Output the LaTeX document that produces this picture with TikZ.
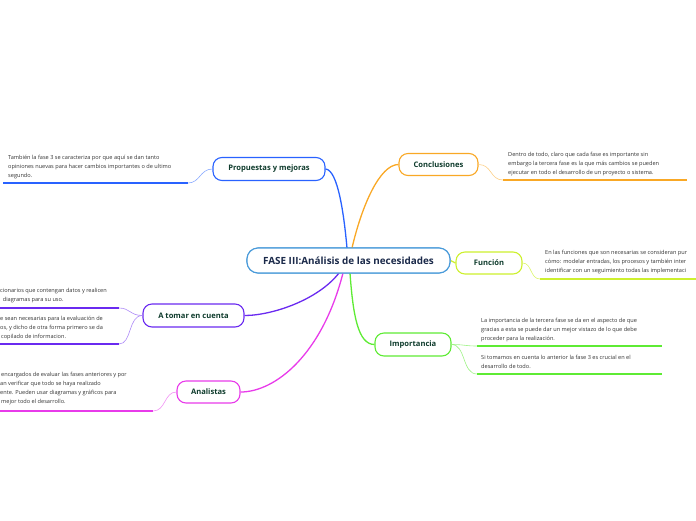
\documentclass[tikz,border=0pt]{standalone}
\usepackage{fontspec}
\setmainfont{Open Sans}
\definecolor{cblue}{HTML}{2962FF}
\definecolor{corange}{HTML}{F9A825}
\definecolor{clime}{HTML}{CDF02E}
\definecolor{cgreen}{HTML}{5EEB34}
\definecolor{cpurple}{HTML}{6A2AF0}
\definecolor{cmag}{HTML}{E83BEA}
\definecolor{ccentral}{HTML}{4A9BDA}
\definecolor{labtxt}{HTML}{0E3B2C}
\definecolor{centxt}{HTML}{1B2A4A}
\definecolor{bodytxt}{HTML}{333333}
\tikzset{
  topic/.style={draw, line width=1.1pt, rounded corners=9pt, fill=white,
    font=\fontsize{7.6}{8}\selectfont\bfseries, text=labtxt, inner sep=0pt},
  central/.style={draw=ccentral, line width=1.1pt, rounded corners=11pt, fill=white,
    font=\fontsize{9.9}{10}\selectfont\bfseries, text=centxt, inner sep=0pt,
    minimum width=203pt, minimum height=25pt},
  body/.style={font=\fontsize{5.6}{8.7}\selectfont, text=bodytxt, align=left,
    inner sep=0pt, anchor=north west},
  mainline/.style={line width=1.3pt},
  subline/.style={line width=1.7pt},
  thin/.style={line width=0.6pt}
}
\begin{document}
\begin{tikzpicture}[x=1pt,y=-1pt]
\useasboundingbox (0,0) rectangle (696,520);

% central
\node[central] (c) at (348.5,260.5) {FASE III:Análisis de las necesidades};

% topics
\node[topic, draw=cblue, minimum width=112pt, minimum height=23pt] (prop) at (269,169) {Propuestas y mejoras};
\node[topic, draw=corange, minimum width=79pt, minimum height=22pt] (conc) at (438.5,164.5) {Conclusiones};
\node[topic, draw=clime, minimum width=66pt, minimum height=22pt] (func) at (489,263) {Función};
\node[topic, draw=cgreen, minimum width=76pt, minimum height=23pt] (imp) at (413,344.5) {Importancia};
\node[topic, draw=cpurple, minimum width=101pt, minimum height=23pt] (tom) at (193.5,315.5) {A tomar en cuenta};
\node[topic, draw=cmag, minimum width=63pt, minimum height=22pt] (ana) at (208.5,392) {Analistas};

% main connectors
\coordinate (cn1) at (347,248);
\coordinate (cn2) at (352,248);
\coordinate (cs1) at (339,273);
\coordinate (cs2) at (343,273);
\coordinate (cs3) at (350,273);
\draw[mainline, cblue] (cn1) .. controls (344,215) and (338,170) .. (prop.east);
\draw[mainline, corange] (cn2) .. controls (362,205) and (380,164.5) .. (conc.west);
\draw[mainline, cpurple] (cs1) .. controls (318,300) and (272,315.5) .. (tom.east);
\draw[mainline, cmag] (cs2) .. controls (322,355) and (275,392) .. (ana.east);
\draw[mainline, cgreen] (cs3) .. controls (353,315) and (358,344.5) .. (imp.west);
\draw[mainline, clime] (c.east) -- (func.west);
\node[central] (c2) at (348.5,260.5) {FASE III:Análisis de las necesidades};

% Propuestas subtopic
\coordinate (p1a) at (188,183);
\coordinate (p1b) at (3,183);
\node[body] (tp1) at (8,155.5) {También la fase 3 se caracteriza por que aquí se dan tanto\\opiniones nuevas para hacer cambios importantes o de ultimo\\segundo.};
\draw[thin, cblue!55] (prop.west) .. controls (200,169) and (200,183) .. (p1a);
\draw[subline, cblue] (p1a) -- (p1b);

% Conclusiones subtopic
\coordinate (c1a) at (503,180);
\coordinate (c1b) at (687,180);
\node[body] (tc1) at (508,152.5) {Dentro de todo, claro que cada fase es importante sin\\embargo la tercera fase es la que más cambios se pueden\\ejecutar en todo el desarrollo de un proyecto o sistema.};
\draw[thin, corange!55] (conc.east) .. controls (492,164.5) and (490,180) .. (c1a);
\draw[subline, corange] (c1a) -- (c1b);

% Funcion subtopic
\coordinate (f1a) at (540,279);
\coordinate (f1b) at (700,279);
\node[body] (tf1) at (545,250.5) {En las funciones que son necesarias se consideran pur\\cómo: modelar entradas, los procesos y también inter\\identificar con un seguimiento todas las implementaci};
\draw[thin, clime!70] (func.east) .. controls (532,263) and (530,279) .. (f1a);
\draw[subline, clime] (f1a) -- (f1b);

% Importancia subtopics
\coordinate (i1a) at (477,346);
\coordinate (i1b) at (662,346);
\coordinate (i2a) at (477,374);
\coordinate (i2b) at (662,374);
\node[body] (ti1) at (481,318.5) {La importancia de la tercera fase se da en el aspecto de que\\gracias a esta se puede dar un mejor vistazo de lo que debe\\proceder para la realización.};
\node[body] (ti2) at (481,355.5) {Si tomamos en cuenta lo anterior la fase 3 es crucial en el\\desarrollo de todo.};
\draw[thin, cgreen!60] (imp.east) .. controls (464,344.5) and (465,346) .. (i1a);
\draw[thin, cgreen!60] (imp.east) .. controls (466,344.5) and (462,374) .. (i2a);
\draw[subline, cgreen] (i1a) -- (i1b);
\draw[subline, cgreen] (i2a) -- (i2b);

% A tomar subtopics
\coordinate (a1a) at (119,308);
\coordinate (a1b) at (-5,308);
\coordinate (a2a) at (119,344);
\coordinate (a2b) at (-5,344);
\node[body] (ta1) at (0,288.5) {cionarios que contengan datos y realicen\\\hspace*{2.7pt}diagramas para su uso.};
\node[body] (ta2) at (0,316.5) {e sean necesarias para la evaluación de\\os, y dicho de otra forma primero se da\\\hspace*{1pt}copilado de informacion.};
\draw[thin, cpurple!55] (tom.west) .. controls (130,315.5) and (130,308) .. (a1a);
\draw[thin, cpurple!55] (tom.west) .. controls (128,315.5) and (132,344) .. (a2a);
\draw[subline, cpurple] (a1a) -- (a1b);
\draw[subline, cpurple] (a2a) -- (a2b);

% Analistas subtopic
\coordinate (n1a) at (153,411);
\coordinate (n1b) at (-5,411);
\node[body] (tn1) at (0,372.5) {\hspace*{1pt}encargados de evaluar las fases anteriores y por\\an verificar que todo se haya realizado\\ente. Pueden usar diagramas y gráficos para\\\hspace*{1pt}mejor todo el desarrollo.};
\draw[thin, cmag!55] (ana.west) .. controls (164,392) and (166,411) .. (n1a);
\draw[subline, cmag] (n1a) -- (n1b);
\end{tikzpicture}
\end{document}
